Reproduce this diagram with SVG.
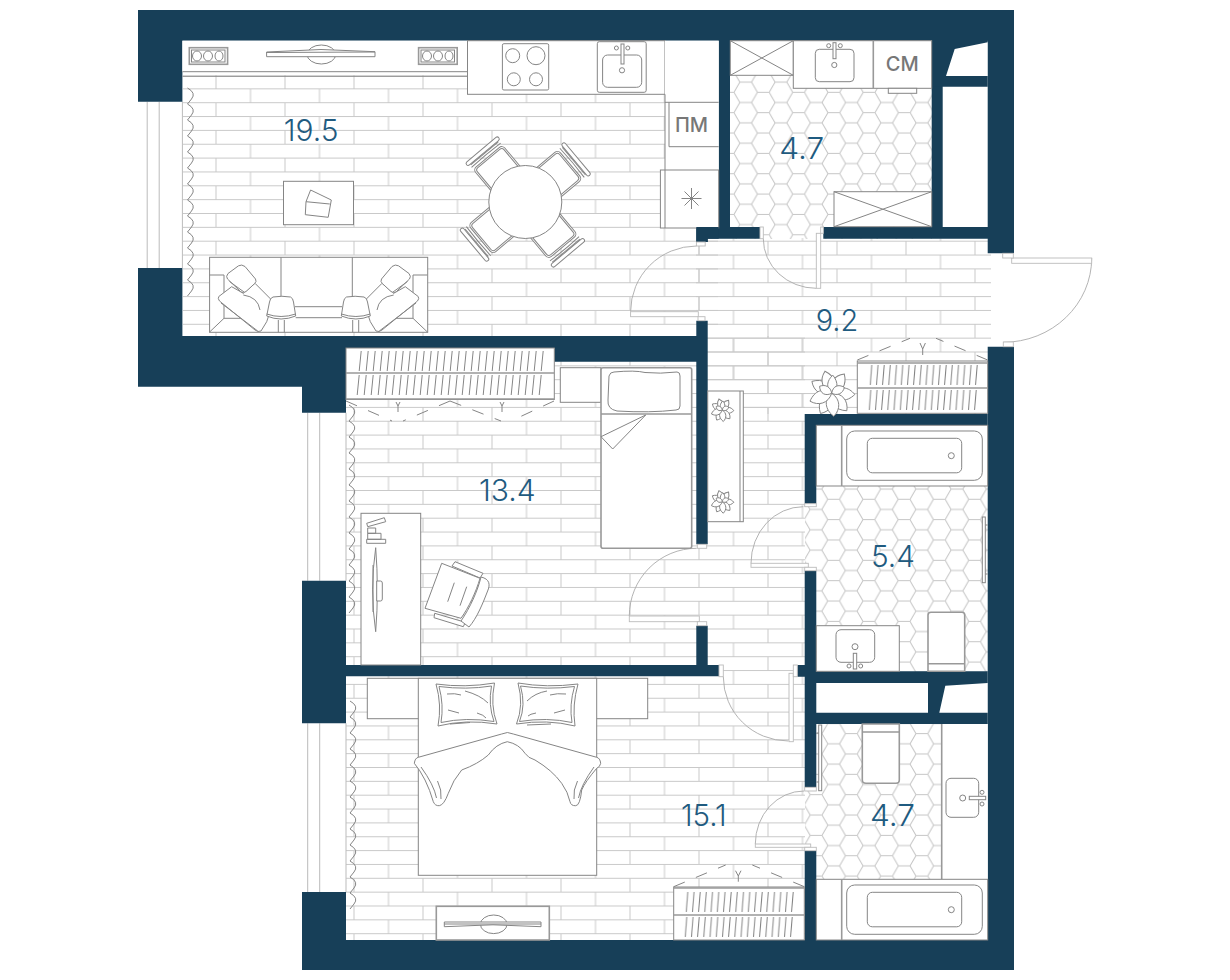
<svg xmlns="http://www.w3.org/2000/svg" xmlns:xlink="http://www.w3.org/1999/xlink" width="1230" height="980" viewBox="0 0 1230 980">
<style>
.l{fill:none;stroke:#858585;stroke-width:1}
.f{fill:#fff;stroke:#858585;stroke-width:1}
.t{fill:#fff;stroke:#999;stroke-width:1.6}
.d{fill:none;stroke:#aaa;stroke-width:.9}
.w{fill:#fff;stroke:#bbb;stroke-width:.9}
.e{fill:none;stroke:#858585;stroke-width:1;stroke-dasharray:12 12}
.p{fill:#fff;stroke:#858585;stroke-width:1;vector-effect:non-scaling-stroke}
.lab{font-family:"Inter","Liberation Sans",sans-serif;font-weight:300;font-size:30px;fill:#1f5b80}
.mark{font-family:"Inter","Liberation Sans",sans-serif;font-weight:500;font-size:20px;fill:#777;text-anchor:middle}
.win{stroke:#bbb;stroke-width:1;fill:none}
</style>
<defs>
<pattern id="brick" patternUnits="userSpaceOnUse" x="215.500" y="74.500" width="69" height="27.700">
<path d="M.5 0V13.850M35 13.850V27.700M0 .5H69M0 14.350H69" fill="none" stroke="#c9c9c9" stroke-width="1"/>
</pattern>
<pattern id="hex1" patternUnits="userSpaceOnUse" x="733.950" y="102.500" width="35.250" height="20.350">
<path id="hexp" d="M0 10.175L5.875 0H17.625L23.500 10.175L17.625 20.350H5.875ZM23.500 10.175H35.250" fill="none" stroke="#c4c4c4" stroke-width="1"/>
</pattern>
<pattern id="hex2" patternUnits="userSpaceOnUse" x="839.450" y="489.100" width="35.250" height="20.350">
<use xlink:href="#hexp"/>
</pattern>
<pattern id="hex3" patternUnits="userSpaceOnUse" x="821.950" y="743.800" width="35.250" height="20.350">
<use xlink:href="#hexp"/>
</pattern>
<pattern id="t6" patternUnits="userSpaceOnUse" width="6.200" height="20">
<path d="M2.200 20L3.800 0" stroke="#858585" stroke-width="1" fill="none"/>
</pattern>
<pattern id="t7" patternUnits="userSpaceOnUse" width="7" height="20">
<path d="M2.200 20L4.200 0" stroke="#858585" stroke-width="1" fill="none"/>
</pattern>
<g id="chair">
<rect class="f" x="-19" y="-58.500" width="38" height="36" rx="4"/>
<rect class="l" x="-17.300" y="-56.800" width="34.600" height="34" rx="3"/>
<path class="l" d="M-19 -61Q0 -62 19 -61"/>
<rect class="f" x="-21" y="-68.300" width="42" height="4" rx="2"/>
<path class="l" d="M-18 -63.500H18"/>
</g>
<g id="flower">
<path class="p" d="M0 0C-4.500 -3 -4.500 -8 -1 -11.500C3.500 -8 4 -3 0 0Z" transform="rotate(-54)"/>
<path class="p" d="M0 0C-4.500 -3 -4.500 -8 -1 -11.500C3.500 -8 4 -3 0 0Z" transform="rotate(38)"/>
<path class="p" d="M0 0C-4.500 -3 -4.500 -8 -1 -11.500C3.500 -8 4 -3 0 0Z" transform="rotate(98)"/>
<path class="p" d="M0 0C-4.500 -3 -4.500 -8 -1 -11.500C3.500 -8 4 -3 0 0Z" transform="rotate(144)"/>
<path class="p" d="M0 0C-4.500 -3 -4.500 -8 -1 -11.500C3.500 -8 4 -3 0 0Z" transform="rotate(214)"/>
<path class="p" d="M0 0C-4.500 -3 -4.500 -8 -1 -11.500C3.500 -8 4 -3 0 0Z" transform="rotate(180)"/>
<path class="p" d="M0 0C-4.500 -3 -4.500 -8 -1 -11.500C3.500 -8 4 -3 0 0Z" transform="rotate(255)"/>
<path class="p" d="M0 0C-4.500 -3 -4.500 -8 -1 -11.500C3.500 -8 4 -3 0 0Z" transform="rotate(-12)"/>
<path class="p" d="M0 0C-3.500 -2 -3.500 -6 -1 -9C2.500 -6 3 -2 0 0Z" transform="rotate(10)"/>
<path class="p" d="M0 0C-3 -2 -3 -5 0 -7C2.500 -5 2.500 -2 0 0Z" transform="rotate(65)"/>
<path class="p" d="M0 0C-3 -2 -3 -5 0 -7C2.500 -5 2.500 -2 0 0Z" transform="rotate(300)"/>
</g>
<g id="lounge">
<path class="l" d="M209.600 275H224H224V318.300L209.600 332M224 318.300H267"/>
<path class="f" d="M218.800 296.500L231.700 286.700L243.300 293.300L255 283.300L273.300 301.700L266.700 321.700L261 331Q258 332.500 255 330L219.500 301Q217.500 298.500 218.800 296.500Z"/>
<path class="l" d="M221 303L257.700 331M243.300 295Q258 297 260 310"/>
<path class="f" d="M238.500 265.800Q241.700 264 245 266.500L255.500 279Q257 281.700 254.500 283.700L246 291.500Q243.300 293.800 240.800 291.800L227.500 279Q225.500 276.500 228 273.500Z"/>
<path class="l" d="M229.500 281.500L244 292"/>
<path class="l" d="M278.300 320V332.300M284.300 320V332.300"/>
<path class="f" d="M273 297Q282 295.500 290.500 297Q293 298 293.500 302L295.700 316Q281 322 266.700 316L269.500 302Q270 298 273 297Z"/>
<path class="l" d="M266.700 314Q281 319 295.700 314"/>
</g>
<g id="tub">
<rect class="f" x="816.300" width="171.400" height="60.700"/>
<path class="t" d="M841.700 0V60.700" fill="none"/>
<rect class="l" x="846.700" y="5.700" width="135.600" height="49.300" rx="8"/>
<rect class="l" x="867.300" y="13" width="94.400" height="34.500" rx="5"/>
<circle class="l" cx="951.300" cy="30.400" r="3"/>
</g>
</defs>

<g id="floors">
<rect x="183" y="75" width="535" height="261" fill="url(#brick)"/>
<rect x="696" y="238" width="295" height="176" fill="url(#brick)"/>
<rect x="346" y="336" width="459" height="604" fill="url(#brick)"/>
<rect x="730" y="75" width="202" height="164" fill="url(#hex1)"/>
<rect x="805" y="486" width="183" height="186" fill="url(#hex2)"/>
<rect x="805" y="724" width="137" height="156" fill="url(#hex3)"/>
</g>

<g id="windows">
<path class="win" d="M147.200 101.700V268M159.200 101.700V268M182.400 101.700V268"/>
<path class="win" d="M307.700 412.700V580.700M319.700 412.700V580.700M346 412.700V580.700"/>
<path class="win" d="M307.700 723.300V892M319.700 723.300V892M346 723.300V892"/>
</g>

<g id="walls">
<path fill="#173f58" d="M138 10H1014V253.300H987.700V40.700H942.700V227H987.700V238.700H823.300V227H931.700V40.700H730V227H760V238.700H707.700V242H696.300V227H718.700V40.700H182.400V101.700H138Z"/>
<path fill="#173f58" d="M931.700 40H987.700V86.700H931.700Z"/>
<path fill="#173f58" d="M138 268H182.400V336H696.300V320.700H707.700V544.300H696.300V361.700H554.300V348H346V412.700H302V386.700H138Z"/>
<path fill="#173f58" d="M302 580.700H346V665H696.300V625.700H707.700V665H719V676.300H346V723.300H302Z"/>
<path fill="#173f58" d="M302 892H346V940H804.700V850.700H816.300V940H987.700V346.700H1014V970H302Z"/>
<path fill="#173f58" d="M804.700 414H987.700V425.300H816.300V503.700H804.700ZM804.700 570.700H816.300V671.300H987.700V683H816.300V712.700H928V683H987.700V724H816.300V787.300H804.700V676.700H797.300V665H804.700Z"/>
<path fill="#fff" d="M954.700 49L987.700 42.300V76H946ZM945.300 685.700L987.700 683V712.700H939.300Z"/>
</g>

<g id="curtains">
<path class="l" d="M187.500 88q9 5 4 11q-2 2.500 -4 5q9 5 4 11q-2 2.500 -4 5q9 5 4 11q-2 2.500 -4 5q9 5 4 11q-2 2.500 -4 5q9 5 4 11q-2 2.500 -4 5q9 5 4 11q-2 2.500 -4 5q9 5 4 11q-2 2.500 -4 5q9 5 4 11q-2 2.500 -4 5q9 5 4 11q-2 2.500 -4 5q9 5 4 11q-2 2.500 -4 5q9 5 4 11q-2 2.500 -4 5q9 5 4 11q-2 2.500 -4 5q9 5 4 11q-2 2.500 -4 5"/>
<path class="l" d="M349 405q9 5 4 11q-2 2.500 -4 5q9 5 4 11q-2 2.500 -4 5q9 5 4 11q-2 2.500 -4 5q9 5 4 11q-2 2.500 -4 5q9 5 4 11q-2 2.500 -4 5q9 5 4 11q-2 2.500 -4 5q9 5 4 11q-2 2.500 -4 5q9 5 4 11q-2 2.500 -4 5q9 5 4 11q-2 2.500 -4 5q9 5 4 11q-2 2.500 -4 5q9 5 4 11q-2 2.500 -4 5q9 5 4 11q-2 2.500 -4 5q9 5 4 11q-2 2.500 -4 5"/>
<path class="l" d="M350 701q9 5 4 11q-2 2.500 -4 5q9 5 4 11q-2 2.500 -4 5q9 5 4 11q-2 2.500 -4 5q9 5 4 11q-2 2.500 -4 5q9 5 4 11q-2 2.500 -4 5q9 5 4 11q-2 2.500 -4 5q9 5 4 11q-2 2.500 -4 5q9 5 4 11q-2 2.500 -4 5q9 5 4 11q-2 2.500 -4 5q9 5 4 11q-2 2.500 -4 5q9 5 4 11q-2 2.500 -4 5q9 5 4 11q-2 2.500 -4 5q9 5 4 11q-2 2.500 -4 5"/>
</g>

<g id="tv-unit">
<rect x="182.400" y="40.700" width="285" height="31" fill="#fff"/>
<path class="l" d="M182.400 71.700H467.500M182.400 76.300H467.500"/>
<rect class="t" x="189.300" y="47.700" width="38.300" height="16.600"/>
<rect class="l" x="191.500" y="50" width="33.500" height="12"/>
<ellipse class="l" cx="197" cy="56" rx="4.500" ry="5"/><ellipse class="l" cx="208" cy="56" rx="4.500" ry="5"/><ellipse class="l" cx="219" cy="56" rx="4" ry="5"/>
<rect class="t" x="418.600" y="47.700" width="38.600" height="16.600"/>
<rect class="l" x="421" y="50" width="33.500" height="12"/>
<ellipse class="l" cx="427" cy="56" rx="4.500" ry="5"/><ellipse class="l" cx="438" cy="56" rx="4.500" ry="5"/><ellipse class="l" cx="449" cy="56" rx="4" ry="5"/>
<ellipse class="f" cx="321.400" cy="54.500" rx="14.300" ry="9.500"/>
<path class="f" d="M266.600 52L321 49.500L375 51.700V56.700H266.600Z"/>
<path class="l" d="M266.600 52.500L375 52"/>
</g>

<g id="kitchen">
<rect class="f" x="467.500" y="40.700" width="197.500" height="53.600"/>
<rect class="f" x="502.400" y="43.700" width="46.300" height="46.300" rx="1.500"/>
<circle class="l" cx="512.700" cy="55.700" r="7"/><circle class="l" cx="536" cy="55.700" r="9"/><circle class="l" cx="513.800" cy="79.300" r="6.500"/><circle class="l" cx="536" cy="79.300" r="6.500"/>
<rect class="f" x="597.300" y="41.700" width="48.900" height="50.600" rx="2"/>
<rect class="l" x="602.600" y="55" width="39.100" height="32.300" rx="5"/>
<rect class="f" x="621" y="44" width="3" height="20"/>
<circle class="l" cx="616.400" cy="48" r="2"/><circle class="l" cx="627.800" cy="48" r="2"/><circle class="l" cx="622" cy="70.300" r="2.600"/>
<rect x="665" y="40.700" width="53.700" height="130" fill="#fff"/>
<path class="l" d="M665 94.300V170M669 102.300V146.700M665 102.300H718.700M669 146.700H718.700"/>
<text class="mark" x="691.500" y="131.500">ПМ</text>
<rect class="f" x="660.400" y="170" width="58.300" height="58"/>
<path class="l" d="M665 170V228"/>
<path class="l" d="M691.500 188V209M681.500 198.500H701.500M684.500 191.500L698.500 205.500M698.500 191.500L684.500 205.500"/>
</g>
<path fill="#173f58" d="M696.300 227H718.700V238.700H707.700V242H696.300Z"/>

<g id="coffee-table">
<rect class="f" x="283.500" y="181.300" width="70" height="43.400"/>
<path class="l" d="M310.600 190L331.300 200L328.200 217.300L305.300 214.700L306 201.700ZM306 201.700L329.800 204"/>
</g>

<g id="dining">
<use xlink:href="#chair" transform="translate(525.300 202) rotate(-40)"/>
<use xlink:href="#chair" transform="translate(525.300 202) rotate(50)"/>
<use xlink:href="#chair" transform="translate(525.300 202) rotate(140)"/>
<use xlink:href="#chair" transform="translate(525.300 202) rotate(230)"/>
<circle class="f" cx="525.300" cy="202" r="36.500"/>
</g>

<g id="sofa">
<rect class="f" x="209.600" y="257.300" width="218.100" height="75"/>
<path class="l" d="M281 257.300V298M352.300 257.300V298M295 306.700H342M295.700 317.700H342"/>
<use xlink:href="#lounge"/>
<use xlink:href="#lounge" transform="translate(637 0) scale(-1 1)"/>
</g>

<g id="wc1">
<rect class="f" x="730.300" y="40.700" width="63" height="34.600"/>
<path class="l" d="M730.300 40.700L793.300 75.300M793.300 40.700L730.300 75.300"/>
<rect class="f" x="793.300" y="40.700" width="138.400" height="47.600"/>
<path class="t" d="M873.300 40.700V88.300" fill="none"/>
<rect class="l" x="815.300" y="49.300" width="38.700" height="32.400" rx="4"/>
<rect class="f" x="833" y="42.700" width="3" height="16"/>
<circle class="l" cx="828.700" cy="45.700" r="2"/><circle class="l" cx="840.300" cy="45.700" r="2"/><circle class="l" cx="834.300" cy="65" r="2.600"/>
<text class="mark" x="902.300" y="70.500">СМ</text>
<rect class="f" x="888.300" y="88.300" width="28.400" height="5"/>
<rect class="f" x="834" y="191.700" width="97.700" height="35"/>
<path class="l" d="M834 191.700L931.700 226.700M931.700 191.700L834 226.700"/>
</g>

<g id="doors">
<path class="d" d="M630.600 311.700A66 65.700 0 0 1 696.400 246"/>
<rect class="w" x="630.600" y="311.700" width="67.700" height="5"/>
<rect class="w" x="696.400" y="242" width="8.800" height="4"/><rect class="w" x="698" y="316.700" width="7" height="4"/>

<path class="d" d="M763.300 238.700A53 49.600 0 0 0 816.300 288.300"/>
<rect class="w" x="816.300" y="233.300" width="4.400" height="55"/>
<rect class="w" x="760" y="227" width="3.300" height="11.700"/><rect class="w" x="820.700" y="227" width="2.600" height="6.300"/>

<path class="d" d="M1091.700 258A88.400 84.300 0 0 1 1003.300 342.300"/>
<rect class="w" x="1011.700" y="258" width="80" height="5.300"/>
<rect class="w" x="1002.700" y="253.300" width="10.600" height="4.700"/><rect class="w" x="1003.300" y="342" width="10" height="4.700"/>

<path class="d" d="M629.300 616A67.400 67.700 0 0 1 696.700 548.300"/>
<rect class="w" x="629.300" y="616" width="70" height="5.700"/>
<rect class="w" x="697.300" y="544.300" width="9.400" height="4"/><rect class="w" x="697.300" y="621.700" width="9.400" height="4"/>

<path class="d" d="M751 563.300A52.300 56.600 0 0 1 803.300 506.700"/>
<rect class="w" x="751" y="563.300" width="57.300" height="4"/>
<rect class="w" x="804.700" y="503.700" width="11.600" height="3"/><rect class="w" x="804.700" y="567.300" width="11.600" height="3.400"/>

<path class="d" d="M723.300 676.700A65 64.300 0 0 0 788.300 741"/>
<rect class="w" x="789" y="673.300" width="4.300" height="68.400"/>
<rect class="w" x="793.300" y="665" width="4" height="11.700"/><rect class="w" x="719" y="665" width="4.300" height="11.700"/>

<path class="d" d="M755.300 844A48.700 53 0 0 1 804 791"/>
<rect class="w" x="755.300" y="844" width="55.400" height="3.300"/>
<rect class="w" x="804.700" y="787.300" width="11.600" height="3.700"/><rect class="w" x="804.700" y="847.300" width="11.600" height="3.400"/>
</g>

<g id="wardrobe-hall">
<path class="e" d="M857.300 360L910 338.300M987.700 360L936 338.300"/>
<path class="l" d="M922.700 355V349L920 343M922.700 349L925.400 343"/>
<rect class="f" x="857.300" y="361" width="130.400" height="52.300"/>
<path class="t" d="M857.300 363H987.700M857.300 388H987.700" fill="none"/>
<rect transform="translate(868 365)" width="110" height="20" fill="url(#t6)"/>
<rect transform="translate(867 390)" width="110" height="20" fill="url(#t6)"/>
</g>

<g id="plant-hall">
<use xlink:href="#flower" transform="translate(831.700 393.300) scale(2)"/>
</g>

<g id="wardrobe-bedroom">
<rect class="f" x="346" y="348" width="208.300" height="51.500"/>
<path class="t" d="M346 373H554.300M346 399H554.300" fill="none"/>
<rect transform="translate(357 351)" width="189" height="20" fill="url(#t7)"/>
<rect transform="translate(355 375)" width="189" height="20" fill="url(#t7)"/>
<path class="e" d="M346 401L392 421M450 401L403 421M450 401L501 421M554 401L511 421"/>
<path class="l" d="M398 412V406L396 402M398 406L400 402M502 412V406L500 402M502 406L504 402"/>
</g>

<g id="bed-single">
<rect class="f" x="560.300" y="367.700" width="40.700" height="34.600"/>
<rect class="t" x="601" y="367.700" width="90.700" height="180.600" rx="2"/>
<path class="t" d="M601 414H691.700" fill="none"/>
<path class="f" d="M614 372Q635 370 645 372.500Q660 374 677 372Q680 372 680 376V406Q680 410 676 410Q650 413 617 411Q607 409 608 400L609 376Q610 372 614 372Z"/>
<path class="f" d="M645.700 415L601 436.700L612.700 449Z"/>
</g>

<g id="plant-shelf">
<rect class="f" x="707.700" y="391" width="35.600" height="130.700"/>
<path class="l" d="M740 391V521.700"/>
<use xlink:href="#flower" transform="translate(722.300 410)"/>
<use xlink:href="#flower" transform="translate(722.300 501.700)"/>
</g>

<g id="desk">
<rect class="f" x="361" y="513.300" width="59.700" height="151.700"/>
<path class="l" d="M366.700 523.300L384.300 517.700L385.700 521.700L367.700 526.700ZM366.700 539.300H385.700V543.300H366.700ZM367.700 533.300H381V539.300H367.700ZM367.700 528H375.700V533.300H367.700Z"/>
<path class="f" d="M375.700 547.700Q369.500 590 375.700 631.700Q379 590 375.700 547.700Z"/>
<path class="l" d="M373 565V612"/>
<path class="f" d="M376.700 581H380.500Q382.300 581 382.300 583V599Q382.300 601 380.500 601H376.700Z"/>
</g>

<g id="office-chair">
<path class="f" d="M455 561.700L483 573.300L480 578L452 566Z"/>
<path class="f" d="M434.700 613.300L465.300 622.300L463.300 626.700L434 617.700Z"/>
<path class="f" d="M481 577C490 579 490 585 488 590C483 603 477 618 469 627L461 621C470 608 478 590 481 577Z"/>
<path class="f" d="M441.700 563.300L480 578.300C476 592 469 607 461 618.300L425 608.300L441.700 563.300Z"/>
<path class="l" d="M454.300 582.700L447.700 601.700M466.700 586.700L460 605.700"/>
</g>

<g id="bed-double">
<rect class="f" x="367.300" y="678.300" width="280.400" height="40.400"/>
<rect class="f" x="418.300" y="678.300" width="178.400" height="197"/>
<path class="f" d="M436 684Q465 688 494.500 683Q490 705 497 724Q466 719 438 726Q442 705 436 684Z"/>
<path class="l" d="M439 686.500Q466 690 491.500 686Q488 705 494 721.500Q466 717 441 722.500Q444 705 439 686.500Z"/>
<path class="l" d="M447 694Q455 693 461 695M465 691Q480 695 488 703M448 710L459 713M477 713Q484 715 486 718M450 724L470 722.500"/>
<path class="f" d="M518 683Q547 688 578 684Q572 705 575 726Q547 719 516.500 724Q524 705 518 683Z"/>
<path class="l" d="M520.500 686Q547 690 574.500 686.500Q569 705 572 722.500Q547 717 519.500 721.500Q526 705 520.500 686Z"/>
<path class="l" d="M527 701Q535 693 547 691M550 695Q557 693 566 694M528 716Q530 714 536 713M554 713L565 710M527 725L551 724"/>
<path class="f" d="M414.300 763.300Q415 758 418.300 757.300L501.700 734Q507.300 731 513.300 734L596.700 757.300Q600 758 600.700 763.300Q600 767 596.700 768.300Q585 782 581.700 790Q580 805.700 575.700 805.700Q571 806 570 801.700Q568 792 561.700 783.300Q552 770 535 760Q528 758 525 753.300Q519 744 507.300 741.700Q496 744 488.300 755Q478 764 461.700 770Q453 780 448.300 793.300Q444 805 439.300 805.700Q435 806 433.300 801.700Q430 790 425 780Q420 770 414.300 763.300Z"/>
<path class="l" d="M421 767Q434 785 436.500 798M437.500 781Q442 790 441 799M594 767Q581 785 578.500 798M577.500 781Q573 790 574 799"/>
</g>

<g id="tv-bedroom">
<rect class="t" x="436.300" y="906.300" width="113" height="33.700"/>
<ellipse class="l" cx="493.700" cy="924.300" rx="13.300" ry="9.300"/>
<path class="f" d="M444.300 922H541V926.700L493 924.800L444.300 926.700Z"/>
<path class="l" d="M444.300 924H541"/>
</g>

<g id="wardrobe-bottom">
<path class="e" d="M673.700 886.700L725.700 865M804.300 886.700L752.300 865"/>
<path class="l" d="M738.300 881.700V876L735.500 870.700M738.300 876L741 870.700"/>
<rect class="f" x="673.700" y="887" width="130.600" height="53"/>
<path class="t" d="M673.700 888H804.300M673.700 915H804.300" fill="none"/>
<rect transform="translate(684 892)" width="112" height="20" fill="url(#t6)"/>
<rect transform="translate(683 917)" width="112" height="20" fill="url(#t6)"/>
</g>

<g id="bath1">
<use xlink:href="#tub" transform="translate(0 425.300)"/>
<rect class="f" x="982.300" y="517" width="3" height="65.700"/>
<path class="l" d="M985.300 525H987.700M985.300 574H987.700"/>
<rect class="f" x="816.300" y="625.700" width="83" height="45.600"/>
<rect class="l" x="836" y="629.700" width="38.700" height="32.600" rx="5"/>
<circle class="l" cx="855" cy="646.700" r="3"/>
<rect class="f" x="853.300" y="653.300" width="3.400" height="15.700"/>
<circle class="l" cx="849" cy="666" r="2"/><circle class="l" cx="860.700" cy="666" r="2"/>
<path class="t" d="M928 671.300V615Q928 612.300 931 612.300H962Q964.700 612.300 964.700 615V671.300Z"/>
<path class="t" d="M928 663.700H964.700" fill="none"/>
</g>

<g id="bath2">
<rect class="f" x="818.700" y="725" width="3" height="65.700"/>
<path class="l" d="M816.300 733H818.700M816.300 782H818.700"/>
<path class="t" d="M862.300 724V780Q862.300 783.300 866 783.300H896Q899.300 783.300 899.300 780V724Z"/>
<path class="t" d="M862.300 732H899.300" fill="none"/>
<rect x="941.700" y="724" width="46" height="155.300" fill="#fff"/>
<path class="t" d="M941.700 724V879.300" fill="none"/>
<rect class="l" x="946" y="778.300" width="32.700" height="39" rx="5"/>
<circle class="l" cx="962.700" cy="798" r="3"/>
<rect class="f" x="969.300" y="796.300" width="16.400" height="3.400"/>
<circle class="l" cx="982" cy="792.300" r="2"/><circle class="l" cx="982" cy="804" r="2"/>
<use xlink:href="#tub" transform="translate(0 879.300)"/>
</g>

<g id="labels">
<text class="lab" x="283.800" y="141" textLength="54.800" lengthAdjust="spacingAndGlyphs">19.5</text>
<text class="lab" x="779.300" y="159.300" textLength="45" lengthAdjust="spacingAndGlyphs">4.7</text>
<text class="lab" x="815.700" y="331" textLength="42.600" lengthAdjust="spacingAndGlyphs">9.2</text>
<text class="lab" x="479" y="501" textLength="56.700" lengthAdjust="spacingAndGlyphs">13.4</text>
<text class="lab" x="681" y="826" textLength="45.700" lengthAdjust="spacingAndGlyphs">15.1</text>
<text class="lab" x="871" y="566.700" textLength="44" lengthAdjust="spacingAndGlyphs">5.4</text>
<text class="lab" x="870" y="826" textLength="45" lengthAdjust="spacingAndGlyphs">4.7</text>
</g>
</svg>
